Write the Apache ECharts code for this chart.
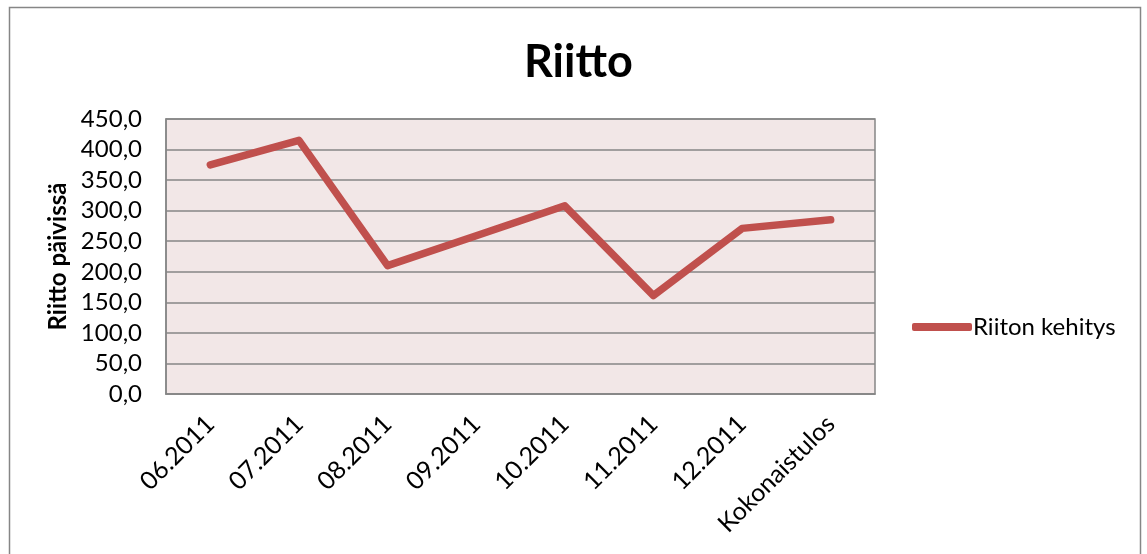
<!DOCTYPE html>
<html>
<head>
<meta charset="utf-8">
<script src="https://cdn.jsdelivr.net/npm/echarts@6/dist/echarts.min.js"></script>
<style>
html,body{margin:0;padding:0;background:#fff;}
#chart{width:1147px;height:554px;}
</style>
</head>
<body>
<div id="chart"></div>
<script>
const categories = ['06.2011','07.2011','08.2011','09.2011','10.2011','11.2011','12.2011','Kokonaistulos'];
const riitonKehitys = [375, 415, 210, 259, 308, 161, 271, 285];
const seriesName = 'Riiton kehitys';
const titleText = 'Riitto';
const yAxisName = 'Riitto päivissä';

const FONT = 'Lato, "Open Sans", sans-serif';
const chart = echarts.init(document.getElementById('chart'));
chart.setOption({
  animation: false,
  backgroundColor: '#ffffff',
  title: {
    text: titleText,
    left: 519,
    top: 35,
    textStyle: { fontFamily: FONT, fontSize: 45, fontWeight: 'bold', color: '#000' }
  },
  legend: {
    data: [seriesName],
    left: 907,
    top: 310,
    itemWidth: 60,
    itemHeight: 8,
    itemGap: 4,
    icon: 'roundRect',
    textStyle: { fontFamily: FONT, fontSize: 24, color: '#000', padding: [0,0,0,-4] }
  },
  grid: {
    left: 166, right: 272, top: 119, bottom: 160,
    show: true, backgroundColor: '#F2E7E7', borderColor: '#868686', borderWidth: 1.5
  },
  xAxis: {
    type: 'category',
    data: categories,
    boundaryGap: true,
    axisLine: { lineStyle: { color: '#868686', width: 1.5 } },
    axisTick: { show: false },
    axisLabel: { rotate: 45, fontFamily: FONT, fontSize: 25, color: '#000', margin: 26 }
  },
  yAxis: {
    type: 'value',
    min: 0, max: 450, interval: 50,
    name: yAxisName,
    nameLocation: 'middle',
    nameGap: 95,
    nameTextStyle: { fontFamily: FONT, fontSize: 24, fontWeight: 'bold', color: '#000' },
    axisLine: { show: true, lineStyle: { color: '#868686', width: 1.5 } },
    axisTick: { show: false },
    splitLine: { lineStyle: { color: '#868686', width: 1.5 } },
    axisLabel: {
      fontFamily: FONT, fontSize: 24, color: '#000', margin: 24,
      formatter: v => v.toFixed(1).replace('.', ',')
    }
  },
  series: [{
    name: seriesName,
    type: 'line',
    data: riitonKehitys,
    symbol: 'none',
    lineStyle: { color: '#C0504D', width: 7.5, cap: 'round', join: 'round' },
    itemStyle: { color: '#C0504D' }
  }],
  graphic: [{
    type: 'rect',
    shape: { x: 9.5, y: 7.5, width: 1131, height: 560 },
    style: { fill: 'none', stroke: '#868686', lineWidth: 1.5 },
    silent: true
  }]
});
</script>
</body>
</html>
